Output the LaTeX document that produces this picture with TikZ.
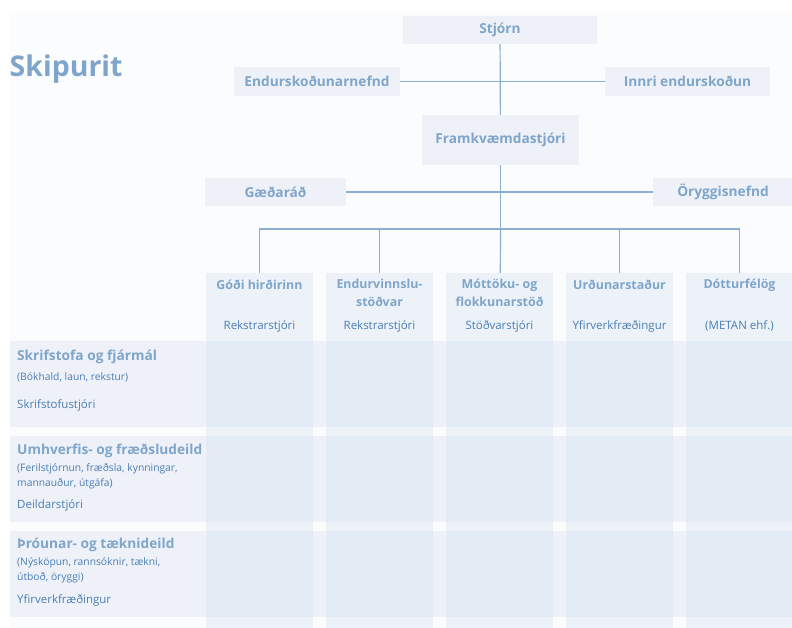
\documentclass[tikz,border=0pt]{standalone}
\usepackage{fontspec}
\setmainfont{Open Sans}
\usepackage{tikz}

\definecolor{linec}{HTML}{8DAED3}
\definecolor{headc}{HTML}{7FA5CA}
\definecolor{textc}{HTML}{4A7DB5}
\definecolor{boxc}{HTML}{EEF2F8}
\definecolor{pagec}{HTML}{FBFCFD}
\definecolor{colc}{HTML}{CCDCEF}

\begin{document}
\begin{tikzpicture}[x=1pt, y=-1pt]

\tikzstyle{every node} = [inner sep=0pt, text=headc, font=\fontsize{13.7}{18}\selectfont\bfseries]
\tikzstyle{box} = [rectangle, fill=boxc]
\tikzstyle{head} = [align=center, font=\fontsize{12.4}{18}\selectfont\bfseries]
\tikzstyle{col} = [rectangle, fill=colc, fill opacity=.3, minimum width=107pt, minimum height=355pt]
\tikzstyle{sub} = [text=textc, font=\fontsize{11.5}{14}\selectfont]
\tikzstyle{note} = [text=textc, font=\fontsize{10.3}{15}\selectfont, align=left, anchor=west]

\useasboundingbox (0,0) rectangle (792,628);
\fill[white] (0,0) rectangle (792,628);
\fill[pagec] (10,13) rectangle (792,628);

\node[anchor=west, font=\fontsize{28.5}{30}\selectfont\bfseries] (t) at (9.5,69) {Skipurit};

\node[box, minimum width=194pt, minimum height=28pt] (s) at (500,30) {Stjórn};
\node[box, minimum width=166pt, minimum height=29pt] (e) at (317,81.5) {Endurskoðunarnefnd};
\node[box, minimum width=165pt, minimum height=29pt] (i) at (687.5,81.5) {Innri endurskoðun};
\node[box, minimum width=157pt, minimum height=50pt] (f) at (500.5,140) {Framkvæmdastjóri};
\node[box, minimum width=141pt, minimum height=28pt] (q) at (275.5,192) {Gæðaráð};
\node[box, minimum width=140pt, minimum height=28pt] (o) at (723,192) {Öryggisnefnd};

% rows
\fill[boxc] (10,341) rectangle (792,427);
\fill[boxc] (10,436) rectangle (792,522);
\fill[boxc] (10,531) rectangle (792,617);

% columns
\node[col] (g) at (259.5,450.5) {};
\node[col] (v) at (379.5,450.5) {};
\node[col] (m) at (499.5,450.5) {};
\node[col] (u) at (619.5,450.5) {};
\node[col] (d) at (739.5,450.5) {};

\node[head] (g1) at (259.5,285) {Góði hirðirinn};
\node[head] (v1) at (379.5,293) {Endurvinnslu-\\stöðvar};
\node[head] (m1) at (499.5,293) {Móttöku- og\\flokkunarstöð};
\node[head] (u1) at (619.5,285) {Urðunarstaður};
\node[head] (d1) at (739.5,285) {Dótturfélög};

\node[sub] (g2) at (259.5,326) {Rekstrarstjóri};
\node[sub] (v2) at (379.5,326) {Rekstrarstjóri};
\node[sub] (m2) at (499.5,326) {Stöðvarstjóri};
\node[sub] (u2) at (619.5,326) {Yfirverkfræðingur};
\node[sub] (d2) at (739.5,326) {(METAN ehf.)};

% departments
\node[anchor=west] (r1) at (17,357) {Skrifstofa og fjármál};
\node[note] (r1n) at (17,377) {(Bókhald, laun, rekstur)};
\node[sub, anchor=west] (r1s) at (17,405) {Skrifstofustjóri};

\node[anchor=west] (r2) at (17,451) {Umhverfis- og fræðsludeild};
\node[note] (r2n) at (17,476.5) {(Ferilstjórnun, fræðsla, kynningar,\\mannauður, útgáfa)};
\node[sub, anchor=west] (r2s) at (17,505) {Deildarstjóri};

\node[anchor=west] (r3) at (17,545) {Þróunar- og tæknideild};
\node[note] (r3n) at (17,570.5) {(Nýsköpun, rannsóknir, tækni,\\útboð, öryggi)};
\node[sub, anchor=west] (r3s) at (17,600) {Yfirverkfræðingur};

\coordinate (b) at (500.5,229);

\draw[-, linec, line width=1.2pt] (s) -- (f);
\draw[-, linec, line width=1.2pt] (e) -- (i);
\draw[-, linec, line width=1.2pt] (q) -- (o);
\draw[-, linec, line width=1.2pt] (f) -- (b);
\draw[-, linec, line width=1.2pt] (b) -| (g);
\draw[-, linec, line width=1.2pt] (b) -| (v);
\draw[-, linec, line width=1.2pt] (b) -- (m);
\draw[-, linec, line width=1.2pt] (b) -| (u);
\draw[-, linec, line width=1.2pt] (b) -| (d);

\end{tikzpicture}
\end{document}
